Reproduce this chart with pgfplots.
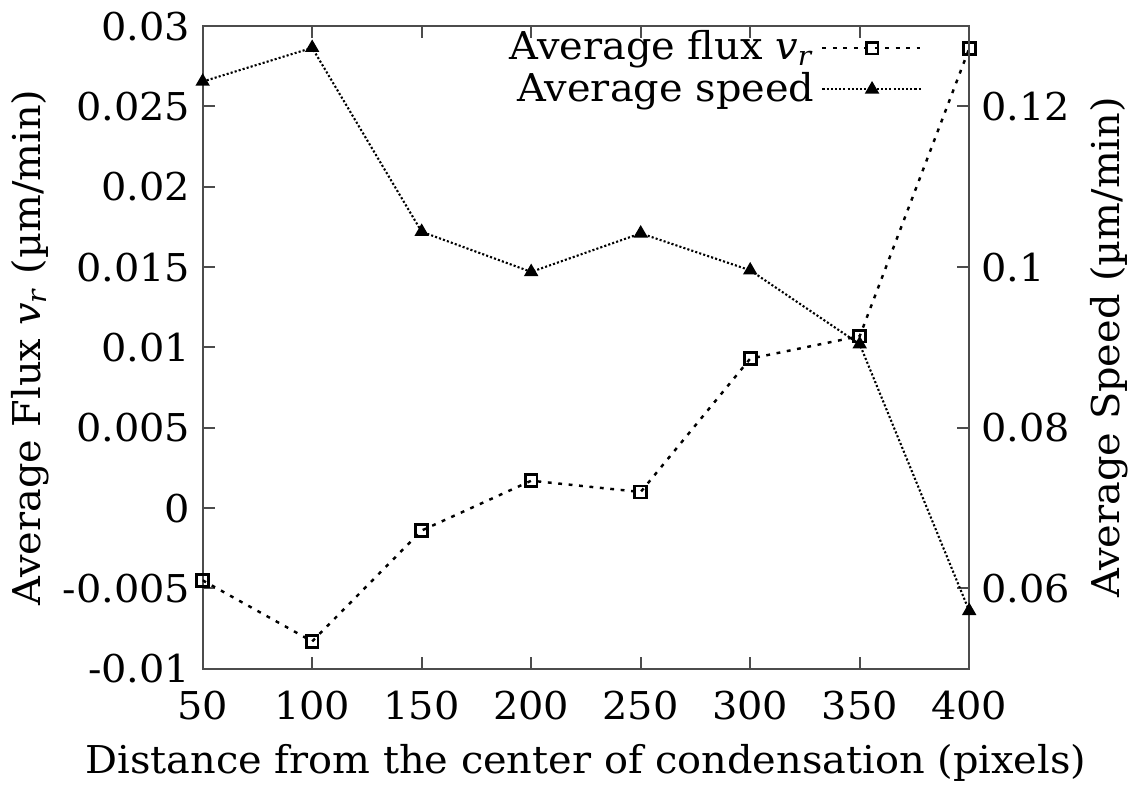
\documentclass[border=0pt]{standalone}
\usepackage{fontspec}
\setmainfont{DejaVu Serif}[FakeStretch=1.04]
\usepackage{pgfplots}
\pgfplotsset{compat=1.18}

\pgfplotsset{
  gp legend/.style={
    legend image code/.code={%
      \draw[mark repeat=2,mark phase=2,##1]
        plot coordinates {(0cm,0cm) (0.5cm,0cm) (1cm,0cm)};}},
  fluxstyle/.style={black, line width=0.7pt, dash pattern=on 1.1pt off 1.9pt,
    mark=square, mark size=1.7pt, mark options={solid, line width=0.8pt}},
  speedstyle/.style={black, line width=0.6pt, dash pattern=on 0.6pt off 0.6pt,
    mark=triangle*, mark size=1.8pt, mark options={solid}},
}

\begin{document}
\begin{tikzpicture}[font=\fontsize{11}{13}\selectfont]
\begin{axis}[
    scale only axis,
    width=7.73cm, height=6.48cm,
    xmin=50, xmax=400, ymin=-0.01, ymax=0.03,
    xtick={50,100,150,200,250,300,350,400},
    ytick={-0.01,-0.005,0,0.005,0.01,0.015,0.02,0.025,0.03},
    scaled y ticks=false,
    yticklabel style={/pgf/number format/fixed, /pgf/number format/precision=3},
    /pgf/number format/assume math mode=true,
    ytick pos=left, xtick pos=both,
    tick align=inside,
    major tick length=1.2mm,
    axis line style={black!70, line width=0.6pt},
    tick style={black!70, line width=0.6pt},
    xticklabel style={yshift=-3pt},
    xlabel={Distance from the center of condensation (pixels)},
    xlabel style={yshift=0pt},
    ylabel={Average Flux \textit{v}\textsubscript{\textit{r}} (µm/min)},
    ylabel style={yshift=-3pt},
  ]
  \addplot[fluxstyle] coordinates {
    (50,-0.0045) (100,-0.0083) (150,-0.0014) (200,0.0017)
    (250,0.0010) (300,0.0093) (350,0.0107) (400,0.0286)};
\end{axis}
\begin{axis}[
    scale only axis,
    width=7.73cm, height=6.48cm,
    xmin=50, xmax=400, ymin=0.05, ymax=0.13,
    axis x line=none,
    axis y line*=right,
    ytick={0.06,0.08,0.1,0.12},
    scaled y ticks=false,
    yticklabel style={/pgf/number format/fixed, /pgf/number format/precision=2},
    /pgf/number format/assume math mode=true,
    tick align=inside,
    major tick length=1.2mm,
    axis line style={black!70, line width=0.6pt},
    tick style={black!70, line width=0.6pt},
    ylabel={Average Speed (µm/min)},
    ylabel style={yshift=1pt},
    gp legend,
    legend plot pos=right,
    legend cell align=right,
    legend style={draw=none, fill=none, at={(0.945,1.01)}, anchor=north east,
      row sep=-2pt, inner sep=1pt},
  ]
  \addlegendimage{fluxstyle}
  \addlegendentry{Average flux \textit{v}\textsubscript{\textit{r}}}
  \addplot[speedstyle] coordinates {
    (50,0.1231) (100,0.1273) (150,0.1044) (200,0.0994)
    (250,0.1042) (300,0.0996) (350,0.0904) (400,0.0572)};
  \addlegendentry{Average speed}
\end{axis}
\end{tikzpicture}
\end{document}
